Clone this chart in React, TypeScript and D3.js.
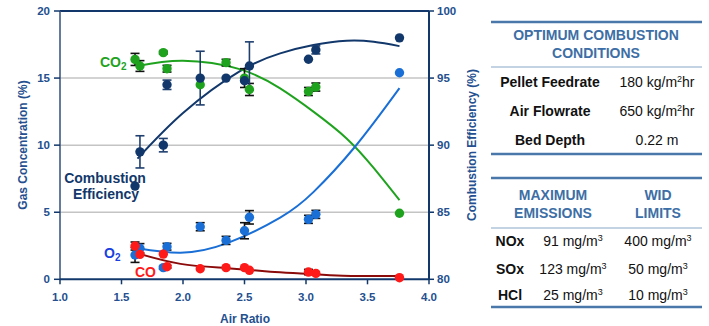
import React from "react";
import * as d3 from "d3";

// ---- data ----
const xTicks = [1.0, 1.5, 2.0, 2.5, 3.0, 3.5, 4.0];
const leftTicks = [0, 5, 10, 15, 20];
const rightTicks = [80, 85, 90, 95, 100];

const airRatio = [1.61, 1.65, 1.84, 1.87, 2.14, 2.35, 2.5, 2.54, 3.02, 3.08, 3.76];

const effVals = [86.95, 89.5, 90.0, 94.5, 95.0, 95.0, 94.8, 95.9, 96.4, 97.1, 98.0];
const effErr = [0, 1.2, 0.5, 0.35, 2.0, 0, 0, 1.8, 0, 0.3, 0];

const co2Vals = [16.39, 15.9, 16.9, 15.7, 14.5, 16.15, 15.0, 14.15, 14.0, 14.33, 4.92];
const co2Err = [0.45, 0.4, 0.1, 0.25, 0, 0.25, 0.7, 0.45, 0.3, 0.3, 0];

const o2Vals = [1.81, 2.31, 0.87, 2.43, 3.92, 2.9, 3.62, 4.62, 4.47, 4.84, 15.4];
const o2Err = [0.55, 0.35, 0.1, 0.25, 0.3, 0.3, 0.6, 0.5, 0.3, 0.3, 0];

const coVals = [2.48, 1.86, 1.88, 0.94, 0.79, 0.87, 0.87, 0.67, 0.54, 0.44, 0.12];
const coErr = [0.3, 0, 0, 0.1, 0, 0, 0, 0, 0.2, 0, 0];

// trend lines
const effFit: [number, number][] = [[1.63, 89.0], [2.0, 92.4], [2.46, 95.5], [2.79, 96.84], [3.06, 97.46], [3.33, 97.78], [3.55, 97.7], [3.76, 97.38]];
const co2Fit: [number, number][] = [[1.63, 15.9], [2.0, 16.3], [2.46, 15.67], [2.79, 14.23], [3.06, 12.5], [3.33, 10.5], [3.55, 8.3], [3.76, 5.9]];
const o2Fit: [number, number][] = [[1.63, 2.31], [1.98, 1.98], [2.36, 2.7], [2.79, 4.6], [3.06, 6.5], [3.4, 9.9], [3.76, 14.25]];
const coFit: [number, number][] = [[1.63, 1.93], [1.98, 1.15], [2.36, 0.83], [2.71, 0.57], [3.0, 0.42], [3.3, 0.27], [3.76, 0.24]];

const condLabels = ["Pellet Feedrate", "Air Flowrate", "Bed Depth"];
const condValues = [["180 kg/m", "2", "hr"], ["650 kg/m", "2", "hr"], ["0.22 m", "", ""]];
const emisLabels = ["NOx", "SOx", "HCl"];
const emisMax = ["91", "123", "25"];
const emisLimit = ["400", "50", "10"];

// ---- styles ----
const NAVY = "#12386b";
const TICK = "#24508f";
const GREEN = "#1fa31f";
const BLUE = "#1a6fd6";
const RED = "#ff1a1a";
const DARKRED = "#8b0a0a";
const HEAD = "#3d6ea5";
const RULE = "#4a78ab";
const FONT = "Liberation Sans, Arial, Helvetica, sans-serif";

const L = 60, R = 429, T = 11, B = 279.3;

export default function App() {
  const x = d3.scaleLinear().domain([1, 4]).range([L, R]);
  const yL = d3.scaleLinear().domain([0, 20]).range([B, T]);
  const yR = d3.scaleLinear().domain([80, 100]).range([B, T]);

  const lineL = d3.line<[number, number]>().x(d => x(d[0])).y(d => yL(d[1])).curve(d3.curveNatural);
  const lineR = d3.line<[number, number]>().x(d => x(d[0])).y(d => yR(d[1])).curve(d3.curveNatural);

  const errBars = (vals: number[], errs: number[], ys: d3.ScaleLinear<number, number>, color: string, key: string) =>
    airRatio.map((a, i) => {
      const e = errs[i];
      if (!e) return null;
      const cx = x(a);
      const y1 = ys(vals[i] - e), y2 = ys(vals[i] + e);
      return (
        <g key={key + i} stroke={color} strokeWidth={1.6}>
          <line x1={cx} x2={cx} y1={y1} y2={y2} />
          <line x1={cx - 4.5} x2={cx + 4.5} y1={y1} y2={y1} />
          <line x1={cx - 4.5} x2={cx + 4.5} y1={y2} y2={y2} />
        </g>
      );
    });

  const dots = (vals: number[], ys: d3.ScaleLinear<number, number>, color: string, key: string) =>
    airRatio.map((a, i) => <circle key={key + i} cx={x(a)} cy={ys(vals[i])} r={4.7} fill={color} />);

  const t1Rows = [87, 115.5, 144.5];
  const t2Rows = [246, 273.5, 300];

  return (
    <svg width={709} height={326} style={{ position: "absolute", left: 0, top: 0 }} fontFamily={FONT}>
      <rect width={709} height={326} fill="#fff" />
      {/* grid */}
      {[5, 10, 15].map(v => (
        <line key={"g" + v} x1={L} x2={R} y1={yL(v)} y2={yL(v)} stroke="#c4c4c4" strokeWidth={1.5} />
      ))}
      {/* frame */}
      <line x1={L} x2={R} y1={T} y2={T} stroke={NAVY} strokeWidth={2} />
      <line x1={L} x2={L} y1={T} y2={B} stroke="#3d5a85" strokeWidth={1.6} />
      <line x1={R} x2={R} y1={T} y2={B} stroke={NAVY} strokeWidth={2} />
      <line x1={L} x2={R} y1={B} y2={B} stroke={NAVY} strokeWidth={2} />
      {/* ticks */}
      {xTicks.map(t => (
        <g key={"x" + t}>
          <line x1={x(t)} x2={x(t)} y1={B} y2={B + 5} stroke={NAVY} strokeWidth={1.5} />
          <text x={x(t)} y={301} textAnchor="middle" fontSize={11.5} fontWeight="bold" fill={TICK}>{t.toFixed(1)}</text>
        </g>
      ))}
      {leftTicks.map(t => (
        <g key={"l" + t}>
          <line x1={L - 6} x2={L} y1={yL(t)} y2={yL(t)} stroke={NAVY} strokeWidth={1.5} />
          <text x={50} y={yL(t) + 4} textAnchor="end" fontSize={11.5} fontWeight="bold" fill={TICK}>{t}</text>
        </g>
      ))}
      {rightTicks.map(t => (
        <g key={"r" + t}>
          <line x1={R} x2={R + 5} y1={yR(t)} y2={yR(t)} stroke={NAVY} strokeWidth={1.5} />
          <text x={437} y={yR(t) + 4} textAnchor="start" fontSize={11.5} fontWeight="bold" fill={TICK}>{t}</text>
        </g>
      ))}
      <text x={245} y={323} textAnchor="middle" fontSize={12} fontWeight="bold" fill={TICK}>Air Ratio</text>
      <text transform="translate(27,145) rotate(-90)" textAnchor="middle" fontSize={12} fontWeight="bold" fill={TICK}>Gas Concentration (%)</text>
      <text transform="translate(476,145) rotate(-90)" textAnchor="middle" fontSize={12} fontWeight="bold" fill={TICK}>Combustion Efficiency (%)</text>

      {/* fits */}
      <path d={lineR(effFit) || ""} fill="none" stroke={NAVY} strokeWidth={2} />
      <path d={lineL(co2Fit) || ""} fill="none" stroke={GREEN} strokeWidth={2} />
      <path d={lineL(o2Fit) || ""} fill="none" stroke={BLUE} strokeWidth={2} />
      <path d={lineL(coFit) || ""} fill="none" stroke={DARKRED} strokeWidth={2} />

      {/* series labels */}
      <text x={100} y={67} fontSize={14} fontWeight="bold" fill={GREEN}>CO<tspan fontSize={10} dy={3}>2</tspan></text>
      <text x={105} y={183} textAnchor="middle" fontSize={14} fontWeight="bold" fill={NAVY}>Combustion</text>
      <text x={106} y={199} textAnchor="middle" fontSize={14} fontWeight="bold" fill={NAVY}>Efficiency</text>
      <text x={104} y={258} fontSize={14} fontWeight="bold" fill="#1a3fe0">O<tspan fontSize={10} dy={3}>2</tspan></text>
      <text x={135} y={277} fontSize={14} fontWeight="bold" fill={RED}>CO</text>

      {/* error bars */}
      {errBars(co2Vals, co2Err, yL, "#111", "ec")}
      {errBars(o2Vals, o2Err, yL, "#111", "eo")}
      {errBars(coVals, coErr, yL, "#111", "ek")}
      {errBars(effVals, effErr, yR, "#1f3f6f", "ee")}

      {/* points */}
      {dots(co2Vals, yL, GREEN, "pc")}
      {dots(effVals, yR, NAVY, "pe")}
      {dots(o2Vals, yL, BLUE, "po")}
      {dots(coVals, yL, RED, "pk")}

      {/* table 1 */}
      <line x1={491} x2={702} y1={22} y2={22} stroke={RULE} strokeWidth={2.5} />
      <text x={596} y={40} textAnchor="middle" fontSize={14} fontWeight="bold" fill={HEAD}>OPTIMUM COMBUSTION</text>
      <text x={596} y={58} textAnchor="middle" fontSize={14} fontWeight="bold" fill={HEAD}>CONDITIONS</text>
      <line x1={491} x2={702} y1={67} y2={67} stroke="#8aa8c8" strokeWidth={1.2} />
      {condLabels.map((lab, i) => (
        <g key={"c" + i}>
          <text x={550} y={t1Rows[i]} textAnchor="middle" fontSize={14} fontWeight="bold" fill="#111">{lab}</text>
          <text x={657} y={t1Rows[i]} textAnchor="middle" fontSize={14} fill="#111">
            {condValues[i][0]}
            {condValues[i][1] ? <tspan fontSize={9} dy={-5}>{condValues[i][1]}</tspan> : null}
            {condValues[i][2] ? <tspan dy={5}>{condValues[i][2]}</tspan> : null}
          </text>
        </g>
      ))}
      <line x1={491} x2={702} y1={154} y2={154} stroke={RULE} strokeWidth={2.5} />

      {/* table 2 */}
      <line x1={491} x2={702} y1={178} y2={178} stroke={RULE} strokeWidth={2.5} />
      <text x={553} y={199.5} textAnchor="middle" fontSize={14} fontWeight="bold" fill={HEAD}>MAXIMUM</text>
      <text x={553} y={217.5} textAnchor="middle" fontSize={14} fontWeight="bold" fill={HEAD}>EMISSIONS</text>
      <text x={658} y={199.5} textAnchor="middle" fontSize={14} fontWeight="bold" fill={HEAD}>WID</text>
      <text x={658} y={217.5} textAnchor="middle" fontSize={14} fontWeight="bold" fill={HEAD}>LIMITS</text>
      <line x1={491} x2={702} y1={228} y2={228} stroke="#8aa8c8" strokeWidth={1.2} />
      {emisLabels.map((lab, i) => (
        <g key={"e" + i}>
          <text x={510} y={t2Rows[i]} textAnchor="middle" fontSize={14} fontWeight="bold" fill="#111">{lab}</text>
          <text x={573} y={t2Rows[i]} textAnchor="middle" fontSize={14} fill="#111">
            {emisMax[i] + " mg/m"}<tspan fontSize={9} dy={-5}>3</tspan>
          </text>
          <text x={658} y={t2Rows[i]} textAnchor="middle" fontSize={14} fill="#111">
            {emisLimit[i] + " mg/m"}<tspan fontSize={9} dy={-5}>3</tspan>
          </text>
        </g>
      ))}
      <line x1={491} x2={702} y1={307} y2={307} stroke={RULE} strokeWidth={2.5} />
    </svg>
  );
}
